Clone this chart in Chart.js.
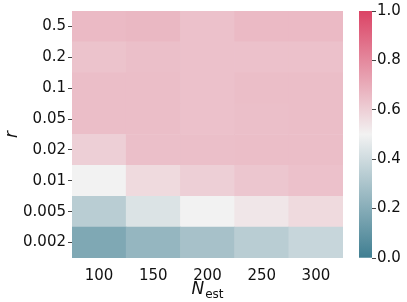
<!DOCTYPE html>
<html>
<head>
<meta charset="utf-8">
<script src="https://cdn.jsdelivr.net/npm/chart.js@4"></script>
<style>
  html, body { margin: 0; padding: 0; background: #fff; }
  #wrap { position: relative; width: 407px; height: 302px; }
  #heat { position: absolute; left: 0; top: 0; }
  #cbar { position: absolute; left: 345px; top: 0; }
</style>
</head>
<body>
<div id="wrap">
  <canvas id="heat" width="345" height="302"></canvas>
  <canvas id="cbar" width="62" height="302"></canvas>
</div>
<script>
// N_est along x, r along y (bottom row first)
const nEst = ['100', '150', '200', '250', '300'];
const rLabels = ['0.002', '0.005', '0.01', '0.02', '0.05', '0.1', '0.2', '0.5'];

// cell values, one array per r row
const r0002 = [0.18, 0.24, 0.29, 0.34, 0.38];
const r0005 = [0.34, 0.435, 0.50, 0.535, 0.57];
const r001  = [0.50, 0.57, 0.60, 0.625, 0.64];
const r002  = [0.60, 0.645, 0.645, 0.65, 0.65];
const r005  = [0.65, 0.65, 0.64, 0.645, 0.65];
const r01   = [0.65, 0.65, 0.64, 0.65, 0.65];
const r02   = [0.635, 0.645, 0.64, 0.64, 0.64];
const r05   = [0.66, 0.665, 0.64, 0.66, 0.66];
const rows = [r0002, r0005, r001, r002, r005, r01, r02, r05];

const cbTicks = [0, 0.2, 0.4, 0.6, 0.8, 1.0];

// diverging map: teal -> light grey -> pink/red
const lowC = [63, 126, 145];
const midC = [242, 242, 242];
const highC = [219, 67, 101];

function cmap(v) {
  let a, b, t;
  if (v <= 0.5) { a = lowC; b = midC; t = v / 0.5; }
  else { a = midC; b = highC; t = (v - 0.5) / 0.5; }
  const c = a.map((x, i) => Math.round(x + (b[i] - x) * t));
  return `rgb(${c[0]}, ${c[1]}, ${c[2]})`;
}

const font = { family: 'DejaVu Sans', size: 15 };

// draws the N_est axis title with a subscript
const xTitle = {
  id: 'xTitle',
  afterDraw(chart) {
    const ctx = chart.ctx;
    const area = chart.chartArea;
    const cx = (area.left + area.right) / 2;
    const y = 298;
    ctx.save();
    ctx.fillStyle = '#111';
    ctx.textBaseline = 'alphabetic';
    ctx.font = 'italic 17px DejaVu Sans';
    const wN = ctx.measureText('N').width;
    ctx.font = '12px DejaVu Sans';
    const wS = ctx.measureText('est').width;
    const x0 = cx - (wN + wS + 1) / 2;
    ctx.font = 'italic 17px DejaVu Sans';
    ctx.fillText('N', x0, y - 4);
    ctx.font = '12px DejaVu Sans';
    ctx.fillText('est', x0 + wN + 1, y);
    ctx.restore();
  }
};

new Chart(document.getElementById('heat'), {
  type: 'bar',
  data: {
    labels: nEst,
    datasets: rows.map((vals, i) => ({
      label: rLabels[i],
      data: vals.map(() => 1),
      backgroundColor: vals.map(cmap),
      borderWidth: 0,
      barPercentage: 1,
      categoryPercentage: 1
    }))
  },
  options: {
    responsive: false,
    animation: false,
    layout: { padding: { top: 11, right: 2, left: 0, bottom: 0 } },
    plugins: { legend: { display: false }, tooltip: { enabled: false } },
    scales: {
      x: {
        stacked: true,
        grid: { display: false },
        border: { display: false },
        ticks: { color: '#111', font: font, padding: 1 },
        afterFit(scale) { scale.height = 44; }
      },
      y: {
        stacked: true,
        min: 0,
        max: 8,
        afterBuildTicks(scale) {
          scale.ticks = rLabels.map((_, i) => ({ value: i + 0.5 }));
        },
        afterFit(scale) { scale.width = 72; },
        grid: { drawOnChartArea: false, drawTicks: true, tickLength: 4, color: '#444' },
        border: { display: false },
        ticks: {
          color: '#111',
          font: font,
          padding: 2,
          autoSkip: false,
          callback: (v) => rLabels[Math.floor(v)]
        },
        title: {
          display: true,
          text: 'r',
          color: '#111',
          font: { family: 'DejaVu Sans', size: 17, style: 'italic' },
          padding: { top: 2, bottom: 0 }
        }
      }
    }
  },
  plugins: [xTitle]
});

new Chart(document.getElementById('cbar'), {
  type: 'bar',
  data: {
    labels: [''],
    datasets: [{
      data: [[0, 1]],
      borderWidth: 0,
      barPercentage: 1,
      categoryPercentage: 1,
      backgroundColor(context) {
        const area = context.chart.chartArea;
        if (!area) return null;
        const g = context.chart.ctx.createLinearGradient(0, area.bottom, 0, area.top);
        g.addColorStop(0, cmap(0));
        g.addColorStop(0.5, cmap(0.5));
        g.addColorStop(1, cmap(1));
        return g;
      }
    }]
  },
  options: {
    responsive: false,
    animation: false,
    layout: { padding: { top: 11, left: 14, right: 0, bottom: 44 } },
    plugins: { legend: { display: false }, tooltip: { enabled: false } },
    scales: {
      x: { display: false },
      y: {
        position: 'right',
        min: 0,
        max: 1,
        afterBuildTicks(scale) {
          scale.ticks = cbTicks.map(v => ({ value: v }));
        },
        afterFit(scale) { scale.width = 35; },
        grid: { drawOnChartArea: false, drawTicks: true, tickLength: 4, color: '#444' },
        border: { display: false },
        ticks: {
          color: '#111',
          font: font,
          padding: 1,
          callback: (v) => v.toFixed(1)
        }
      }
    }
  }
});
</script>
</body>
</html>
